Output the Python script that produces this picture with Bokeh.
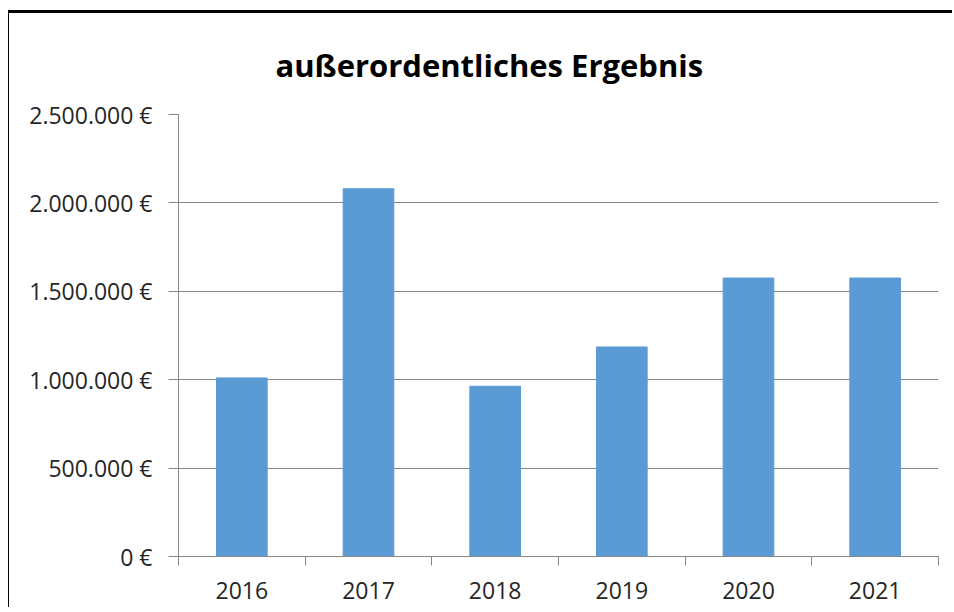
from bokeh.plotting import figure
from bokeh.models import FixedTicker, Range1d
from bokeh.embed import file_html
from bokeh.resources import INLINE

# ---- data ----
years = ["2016", "2017", "2018", "2019", "2020", "2021"]
values = [1010000, 2080000, 963000, 1185000, 1575000, 1575000]
y_ticks = [0, 500000, 1000000, 1500000, 2000000, 2500000]
y_tick_labels = ["0 €", "500.000 €", "1.000.000 €", "1.500.000 €", "2.000.000 €", "2.500.000 €"]
title_text = "außerordentliches Ergebnis"

n = len(years)
x_pos = [i + 0.5 for i in range(n)]
boundaries = list(range(n + 1))

FONT = "Open Sans"
GRAY = "#868686"

p = figure(width=944, height=597, output_backend="svg", toolbar_location=None,
           x_range=Range1d(0, n), y_range=Range1d(y_ticks[0], y_ticks[-1]),
           min_border_left=169, min_border_right=15, min_border_top=99, min_border_bottom=54)
p.styles = {"margin-left": "8px", "margin-top": "10px",
            "border-top": "3px solid black", "border-left": "1px solid black"}

p.title.text = title_text
p.title.text_font = FONT
p.title.text_font_style = "bold"
p.title.text_font_size = "31px"
p.title.text_color = "#000000"
p.title.align = "left"
p.title.offset = 97
p.title.standoff = 57

p.vbar(x=x_pos, top=values, width=0.4, fill_color="#5B9BD5", line_color="#5B9BD5")

p.outline_line_color = None
p.xgrid.grid_line_color = None
p.ygrid.grid_line_color = GRAY
p.ygrid.ticker = FixedTicker(ticks=y_ticks)

xa = p.xaxis[0]
xa.ticker = FixedTicker(ticks=x_pos, minor_ticks=boundaries)
xa.major_label_overrides = {x: y for x, y in zip(x_pos, years)}
xa.major_tick_out = 0
xa.major_tick_in = 0
xa.minor_tick_out = 9
xa.minor_tick_in = 0
xa.minor_tick_line_color = GRAY
xa.axis_line_color = GRAY
xa.major_label_text_font = FONT
xa.major_label_text_font_size = "23px"
xa.major_label_text_color = "#262626"
xa.major_label_standoff = 16

ya = p.yaxis[0]
ya.ticker = FixedTicker(ticks=y_ticks)
ya.major_label_overrides = {v: s for v, s in zip(y_ticks, y_tick_labels)}
ya.major_tick_out = 10
ya.major_tick_in = 0
ya.major_tick_line_color = GRAY
ya.axis_line_color = GRAY
ya.minor_tick_line_color = None
ya.major_label_text_font = FONT
ya.major_label_text_font_size = "23px"
ya.major_label_text_color = "#262626"
ya.major_label_standoff = 16

open("out.html", "w").write(file_html(p, INLINE))
